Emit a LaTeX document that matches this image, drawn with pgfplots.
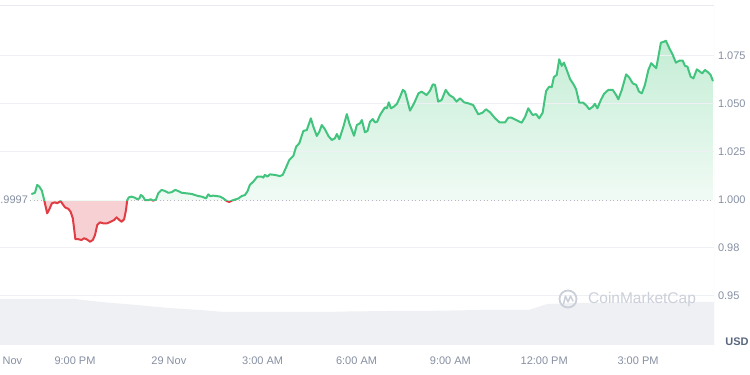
\documentclass[border=0pt]{standalone}
\usepackage{pgfplots}
\pgfplotsset{compat=1.18}
\usepackage{pgfplotstable}
\usepackage{fontspec}
\setmainfont{Liberation Sans}

\definecolor{cmcgreen}{RGB}{66,196,126}
\definecolor{cmcred}{RGB}{224,62,68}
\definecolor{tickgray}{RGB}{134,143,161}
\definecolor{gridgray}{RGB}{238,240,244}
\definecolor{bordergray}{RGB}{232,234,239}
\definecolor{volgray}{RGB}{239,240,244}
\definecolor{usdgray}{RGB}{88,102,126}
\definecolor{wmgray}{RGB}{203,207,217}
\definecolor{dotgray}{RGB}{170,176,190}
\definecolor{greentop}{RGB}{196,237,213}
\definecolor{greenbot}{RGB}{252,254,253}
\definecolor{redfill}{RGB}{246,208,210}

% price series; first and last rows close the area onto the 0.9997 baseline
\pgfplotstableread{
t p
19.619 0.9997
19.62 1.0029
19.72 1.0035
19.79 1.0076
19.86 1.0067
19.94 1.0046
20.01 1.0001
20.05 0.9971
20.11 0.9928
20.18 0.9949
20.26 0.9980
20.36 0.9985
20.43 0.9980
20.54 0.9992
20.61 0.9975
20.68 0.9959
20.79 0.9951
20.86 0.9936
20.93 0.9902
20.97 0.9850
21.01 0.9794
21.11 0.9793
21.21 0.9789
21.29 0.9798
21.37 0.9793
21.48 0.9780
21.57 0.9789
21.64 0.9815
21.71 0.9867
21.80 0.9881
21.90 0.9876
22.03 0.9876
22.14 0.9884
22.25 0.9893
22.33 0.9907
22.42 0.9893
22.49 0.9884
22.57 0.9897
22.63 0.9945
22.67 0.9997
22.72 1.0011
22.81 1.0015
22.92 1.0009
22.99 1.0001
23.06 1.0006
23.10 1.0023
23.16 1.0018
23.24 0.9997
23.34 0.9997
23.42 1.0001
23.50 0.9994
23.59 1.0001
23.66 1.0032
23.77 1.0050
23.88 1.0044
23.98 1.0035
24.09 1.0038
24.20 1.0050
24.30 1.0044
24.41 1.0035
24.57 1.0032
24.73 1.0029
24.84 1.0023
24.94 1.0018
25.05 1.0015
25.19 1.0006
25.26 1.0027
25.32 1.0018
25.42 1.0020
25.53 1.0018
25.64 1.0015
25.74 1.0006
25.85 0.9992
25.93 0.9987
26.01 0.9994
26.12 1.0000
26.22 1.0005
26.33 1.0018
26.43 1.0023
26.51 1.0041
26.59 1.0076
26.70 1.0093
26.83 1.0119
26.97 1.0119
27.02 1.0114
27.07 1.0128
27.15 1.0119
27.23 1.0131
27.39 1.0128
27.55 1.0122
27.64 1.0128
27.75 1.0168
27.85 1.0206
27.98 1.0227
28.07 1.0275
28.17 1.0293
28.30 1.0357
28.41 1.0362
28.54 1.0423
28.62 1.0379
28.73 1.0331
28.81 1.0353
28.89 1.0388
28.99 1.0366
29.10 1.0331
29.21 1.0310
29.31 1.0319
29.37 1.0341
29.45 1.0314
29.58 1.0379
29.69 1.0445
29.77 1.0397
29.92 1.0332
30.01 1.0388
30.11 1.0397
30.17 1.0414
30.27 1.0350
30.35 1.0357
30.43 1.0405
30.52 1.0419
30.59 1.0402
30.66 1.0405
30.75 1.0440
30.84 1.0463
30.91 1.0480
30.97 1.0475
31.03 1.0506
31.10 1.0475
31.18 1.0482
31.29 1.0498
31.39 1.0534
31.48 1.0571
31.55 1.0562
31.71 1.0463
31.84 1.0501
31.98 1.0553
32.08 1.0562
32.24 1.0544
32.35 1.0567
32.44 1.0600
32.51 1.0597
32.61 1.0510
32.72 1.0518
32.85 1.0571
32.97 1.0544
33.09 1.0532
33.20 1.0510
33.31 1.0527
33.44 1.0506
33.57 1.0501
33.73 1.0492
33.89 1.0444
34.03 1.0452
34.14 1.0470
34.27 1.0454
34.43 1.0423
34.57 1.0402
34.75 1.0402
34.85 1.0426
34.96 1.0426
35.10 1.0414
35.28 1.0400
35.39 1.0431
35.49 1.0475
35.63 1.0440
35.74 1.0445
35.84 1.0423
35.95 1.0452
36.06 1.0565
36.16 1.0588
36.24 1.0585
36.31 1.0638
36.40 1.0649
36.48 1.0730
36.56 1.0696
36.63 1.0713
36.72 1.0675
36.83 1.0626
36.93 1.0602
37.02 1.0574
37.12 1.0504
37.25 1.0504
37.36 1.0487
37.44 1.0470
37.55 1.0483
37.62 1.0498
37.70 1.0475
37.81 1.0518
37.91 1.0550
38.05 1.0571
38.19 1.0571
38.30 1.0544
38.37 1.0522
38.48 1.0571
38.62 1.0652
38.72 1.0635
38.83 1.0605
38.94 1.0597
39.03 1.0562
39.12 1.0553
39.22 1.0597
39.33 1.0675
39.42 1.0710
39.58 1.0684
39.65 1.0744
39.73 1.0817
39.83 1.0822
39.89 1.0827
40.00 1.0788
40.11 1.0753
40.21 1.0713
40.32 1.0723
40.43 1.0723
40.50 1.0696
40.58 1.0692
40.68 1.0640
40.77 1.0631
40.88 1.0678
40.98 1.0666
41.05 1.0657
41.14 1.0675
41.25 1.0661
41.32 1.0649
41.39 1.0619
41.391 0.9997
}\pricedata

\pgfplotstableread{
t v
18.60 4.6
19.00 4.6
20.00 4.6
21.00 4.6
21.40 4.45
22.00 4.25
23.00 4.0
24.00 3.7
25.00 3.5
25.80 3.3
27.00 3.3
28.00 3.3
29.00 3.3
29.70 3.35
31.00 3.4
32.00 3.4
33.00 3.45
34.00 3.5
35.50 3.5
36.10 4.1
37.00 4.2
38.00 4.25
39.00 4.3
40.00 4.3
41.43 4.3
}\voldata

\pgfplotsset{
  common/.style={
    anchor=south west, scale only axis, width=714pt,
    xmin=18.602, xmax=41.428, clip=true},
  priceline/.style={line width=2pt, line join=round, line cap=round,
    restrict x to domain=19.6195:41.3905},
}

\begin{document}
\begin{tikzpicture}[x=1pt,y=1pt]
\path[use as bounding box] (0,-30) rectangle (750,345);

% volume area
\begin{axis}[common, at={(0pt,0pt)}, height=339pt, ymin=0, ymax=33.9, hide axis]
\addplot[fill=volgray, draw=none] table {\voldata} \closedcycle;
\end{axis}

% lower part: below the 0.9997 baseline (red)
\begin{axis}[common, at={(0pt,0pt)}, height=144.93pt, ymin=0.9242, ymax=0.9997, hide axis]
\addplot[fill=redfill, draw=none] table {\pricedata};
\draw[gridgray, line width=1pt] (axis cs:18.602,0.975) -- (axis cs:41.428,0.975);
\draw[gridgray, line width=1pt] (axis cs:18.602,0.950) -- (axis cs:41.428,0.950);
\draw[dotgray, line width=1pt, dash pattern=on 1pt off 2.6pt] (axis cs:19.56,0.9997) -- (axis cs:41.428,0.9997);
\addplot[cmcred, priceline] table {\pricedata};
\end{axis}

% upper part: above the 0.9997 baseline (green)
\begin{axis}[common, at={(0pt,144.93pt)}, height=194.07pt, ymin=0.9997, ymax=1.1008, hide axis]
\addplot[top color=greentop, bottom color=greenbot, draw=none] table {\pricedata};
\draw[gridgray, line width=1pt] (axis cs:18.602,1.075) -- (axis cs:41.428,1.075);
\draw[gridgray, line width=1pt] (axis cs:18.602,1.050) -- (axis cs:41.428,1.050);
\draw[gridgray, line width=1pt] (axis cs:18.602,1.025) -- (axis cs:41.428,1.025);
\addplot[cmcgreen, priceline] table {\pricedata};
\end{axis}

% frame, ticks and labels
\begin{axis}[common, at={(0pt,0pt)}, height=339pt, ymin=0.9242, ymax=1.1008,
  axis line style={draw=none},
  major tick length=0pt,
  tick style={draw=none},
  ytick={0.95,0.975,1.0,1.025,1.05,1.075},
  yticklabels={0.95,0.98,1.000,1.025,1.050,1.075},
  yticklabel pos=right,
  yticklabel style={font=\fontsize{11}{13}\selectfont, text=tickgray, anchor=west, xshift=0.5pt},
  xtick={19.0,21,24,27,30,33,36,39},
  xticklabels={Nov,9:00 PM,29 Nov,3:00 AM,6:00 AM,9:00 AM,12:00 PM,3:00 PM},
  xticklabel style={font=\fontsize{11}{13}\selectfont, text=tickgray, yshift=-8pt}]
\draw[bordergray, line width=1pt] (rel axis cs:0,1) -- (rel axis cs:1,1) -- (rel axis cs:1,0);
\node[anchor=east, inner sep=0pt, text=tickgray, font=\fontsize{11}{13}\selectfont] at (axis cs:19.50,0.9997) {.9997};
\end{axis}

% USD label
\node[font=\fontsize{11}{13}\selectfont\bfseries, text=usdgray] at (737,3) {USD};

% watermark
\draw[wmgray, line width=1.8pt] (568,46) circle (8.5);
\draw[wmgray, line width=1.5pt, line join=round, line cap=round] (563.5,41) -- (565.5,49) -- (568,43) -- (570.5,49) -- (573,44);
\node[anchor=west, inner sep=0pt, text=wmgray, font=\fontsize{15.5}{17}\selectfont] at (588,46) {CoinMarketCap};
\end{tikzpicture}
\end{document}
